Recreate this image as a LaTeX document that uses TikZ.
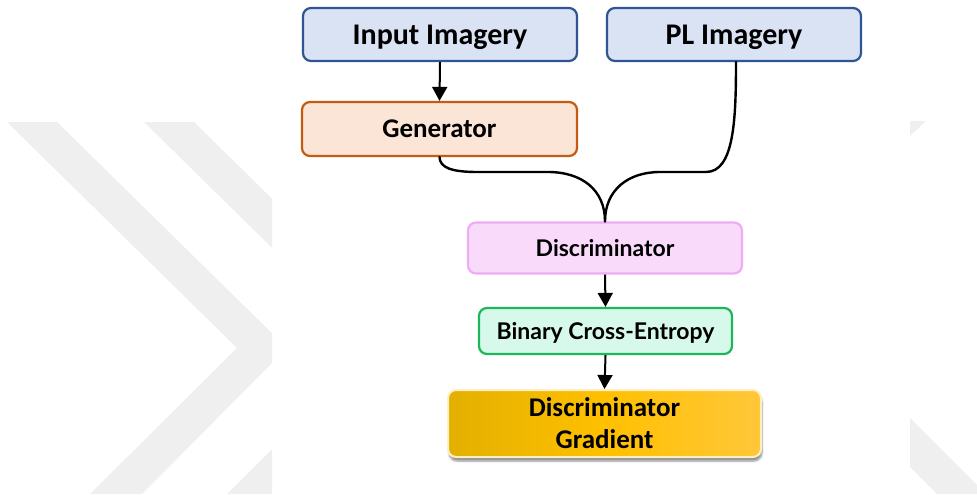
\documentclass[tikz,border=0pt]{standalone}
\usepackage{fontspec}
\setmainfont{Carlito}
\newfontfamily\latofont{Lato}
\usetikzlibrary{arrows.meta,shadows.blur}

\definecolor{wmgray}{HTML}{EFEFEF}
\definecolor{inFill}{HTML}{DAE3F3}
\definecolor{inDraw}{HTML}{2F5597}
\definecolor{genFill}{HTML}{FBE5D6}
\definecolor{genDraw}{HTML}{C55A11}
\definecolor{disFill}{HTML}{F9DAFB}
\definecolor{disDraw}{HTML}{EEACF2}
\definecolor{bceFill}{HTML}{D7F9EB}
\definecolor{bceDraw}{HTML}{1DB65A}
\definecolor{gradL}{HTML}{E3B000}
\definecolor{gradM}{HTML}{FFC000}
\definecolor{gradR}{HTML}{FFC73A}
\definecolor{gradDraw}{HTML}{FFF0C4}

\begin{document}
\begin{tikzpicture}[x=1pt,y=-1pt,
  box/.style={draw, rounded corners=8pt, line width=2.2pt, inner sep=0pt, align=center},
  bigtext/.style={font=\fontsize{30}{36}\selectfont\bfseries, text height=19.3pt, text depth=0pt},
  midtext/.style={font=\fontsize{27}{32}\selectfont\bfseries, text height=17.4pt, text depth=0pt},
  twolines/.style={font=\fontsize{27}{32}\selectfont\bfseries},
  smalltext/.style={font=\latofont\fontsize{23}{28}\selectfont\bfseries, text height=16.6pt, text depth=0pt},
  flow/.style={line width=2pt, -{Triangle[width=15pt,length=14pt]}},
  merge/.style={line width=2.4pt, line cap=round}]

\useasboundingbox (0,0) rectangle (977,495);

% faint chevron bands behind the chart
\begin{scope}
  \clip (0,121) rectangle (272,494);
  \fill[wmgray] (7,122) -- (57,122) -- (287,348) -- (142,494) -- (90,494) -- (237,348) -- cycle;
  \fill[wmgray] (144,122) -- (194,122) -- (424,348) -- (279,494) -- (227,494) -- (374,348) -- cycle;
\end{scope}
\begin{scope}
  \clip (910,119) rectangle (977,494);
  \fill[wmgray] (910,418) -- (986,494) -- (937,494) -- (910,467) -- cycle;
  \fill[wmgray] (910,121) -- (926,121) -- (910,136) -- cycle;
\end{scope}

% boxes
\node[box, bigtext, fill=inFill, draw=inDraw, minimum width=274pt, minimum height=53pt]
  (input) at (440,34.5) {Input Imagery};
\node[box, bigtext, fill=inFill, draw=inDraw, minimum width=254pt, minimum height=53pt]
  (pl) at (734,34.5) {PL Imagery};
\node[box, midtext, fill=genFill, draw=genDraw, minimum width=275pt, minimum height=54pt]
  (gen) at (439.5,129) {Generator};
\node[box, smalltext, fill=disFill, draw=disDraw, minimum width=274pt, minimum height=51pt]
  (disc) at (605,248) {Discriminator};
\node[box, smalltext, fill=bceFill, draw=bceDraw, minimum width=253pt, minimum height=46pt]
  (bce) at (605.5,331) {Binary Cross-Entropy};
\node[box, twolines, draw=gradDraw, line width=2pt,
  left color=gradL, right color=gradR, middle color=gradM,
  minimum width=313pt, minimum height=67pt,
  blur shadow={shadow xshift=1pt, shadow yshift=-4pt, shadow blur steps=6, shadow opacity=45}]
  (grad) at (604.5,423.5) {Discriminator\\Gradient};

% connectors
\draw[flow] (input.south) -- (gen.north);
\draw[merge] (gen.south) .. controls (440,168) and (452,172) .. (478,172)
  -- (548,172) .. controls (582,172) and (605,190) .. (disc.north);
\draw[merge] ([xshift=2pt]pl.south) .. controls (736,120) and (734,172) .. (706,172)
  -- (660,172) .. controls (628,172) and (605,190) .. (disc.north);
\draw[flow] (disc.south) -- (bce.north);
\draw[flow] (bce.south) -- (grad.north);
\end{tikzpicture}
\end{document}
